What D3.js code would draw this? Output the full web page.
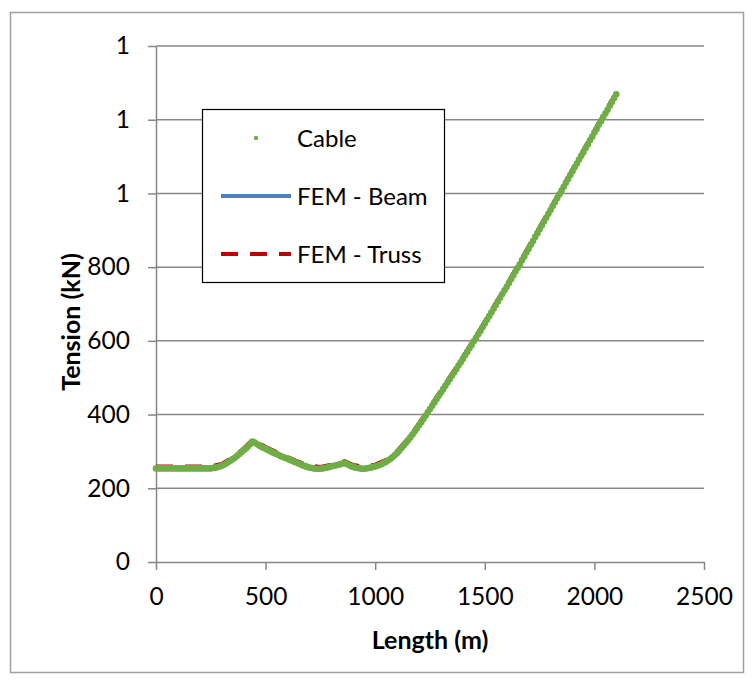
<!DOCTYPE html>
<html>
<head>
<meta charset="utf-8">
<script src="https://cdn.jsdelivr.net/npm/d3@7"></script>
<style>
  html, body { margin: 0; padding: 0; background: #ffffff; }
  svg text { font-family: Lato, "Noto Sans", sans-serif; fill: #000000; }
</style>
</head>
<body>
<div id="svgOutput"></div>
<script>
// data

const xTicks = [0, 500, 1000, 1500, 2000, 2500];
const yTicks = [0, 200, 400, 600, 800, 1000, 1200, 1400];
const yTickLabels = ["0", "200", "400", "600", "800", "1", "1", "1"];

const seriesNames = ["Cable", "FEM - Beam", "FEM - Truss"];

// cable nodes (m) and tension (kN)
const cableLength = [
  0, 10, 20, 30, 40, 50, 60, 70, 80, 90, 100, 110, 120, 130, 140, 150, 160, 170, 180, 190,
  200, 210, 220, 230, 240, 250, 260, 270, 280, 290, 300, 310, 320, 330, 340, 350, 360, 370, 380, 390,
  400, 410, 420, 430, 440, 450, 460, 470, 480, 490, 500, 510, 520, 530, 540, 550, 560, 570, 580, 590,
  600, 610, 620, 630, 640, 650, 660, 670, 680, 690, 700, 710, 720, 730, 740, 750, 760, 770, 780, 790,
  800, 810, 820, 830, 840, 850, 860, 870, 880, 890, 900, 910, 920, 930, 940, 950, 960, 970, 980, 990,
  1000, 1010, 1020, 1030, 1040, 1050, 1060, 1070, 1080, 1090, 1100, 1110, 1120, 1130, 1140, 1150, 1160, 1170, 1180, 1190,
  1200, 1210, 1220, 1230, 1240, 1250, 1260, 1270, 1280, 1290, 1300, 1310, 1320, 1330, 1340, 1350, 1360, 1370, 1380, 1390,
  1400, 1410, 1420, 1430, 1440, 1450, 1460, 1470, 1480, 1490, 1500, 1510, 1520, 1530, 1540, 1550, 1560, 1570, 1580, 1590,
  1600, 1610, 1620, 1630, 1640, 1650, 1660, 1670, 1680, 1690, 1700, 1710, 1720, 1730, 1740, 1750, 1760, 1770, 1780, 1790,
  1800, 1810, 1820, 1830, 1840, 1850, 1860, 1870, 1880, 1890, 1900, 1910, 1920, 1930, 1940, 1950, 1960, 1970, 1980, 1990,
  2000, 2010, 2020, 2030, 2040, 2050, 2060, 2070, 2080, 2090, 2100
];
const cableTension = [
  254, 254, 254, 254, 254, 254, 254, 254, 254, 254, 254, 254, 254, 254, 254, 254, 254, 254, 254, 254,
  254, 254, 254, 254, 254, 254, 255, 256, 257, 259, 261, 264, 267, 271, 275, 279, 283, 288, 293, 298,
  303, 308, 314, 320, 327, 324, 320, 317, 313, 310, 307, 304, 301, 298, 295, 293, 290, 287, 285, 282,
  280, 277, 275, 272, 270, 267, 265, 262, 260, 258, 256, 255, 254, 253, 253, 253, 254, 255, 256, 258,
  259, 261, 262, 264, 265, 267, 269, 266, 263, 260, 258, 256, 255, 254, 253, 253, 254, 255, 256, 258,
  259, 261, 263, 266, 269, 272, 276, 280, 285, 290, 296, 302, 309, 316, 323, 330, 338, 346, 354, 362,
  371, 379, 388, 397, 406, 415, 424, 433, 442, 451, 460, 469, 478, 487, 496, 505, 514, 523, 533, 542,
  551, 561, 570, 580, 589, 599, 608, 618, 627, 637, 647, 657, 667, 677, 687, 697, 707, 717, 727, 737,
  747, 757, 767, 778, 788, 798, 808, 819, 829, 840, 850, 861, 871, 882, 892, 903, 913, 924, 934, 945,
  955, 966, 976, 987, 997, 1008, 1018, 1029, 1039, 1050, 1060, 1071, 1081, 1092, 1102, 1112, 1123, 1133, 1144, 1154,
  1165, 1175, 1186, 1196, 1207, 1217, 1227, 1238, 1248, 1259, 1269
];

// finite element results (m, kN)
const femLength = [0, 50, 100, 150, 200, 250, 300, 350, 400, 443, 500, 550, 600, 650, 700, 750, 800, 861,
  900, 950, 1000, 1050, 1100, 1150, 1200, 1250, 1300, 1400, 1500, 1600, 1700, 1800, 1900, 2000, 2100];
const beamTension = [255, 255, 255, 255, 255, 255, 262, 280, 304, 329, 308, 294, 281, 268, 257, 254, 260, 270,
  259, 254, 260, 273, 297, 331, 372, 416, 461, 552, 648, 748, 851, 956, 1061, 1166, 1270];
const trussTension = [259, 259, 259, 259, 259, 259, 266, 284, 308, 333, 312, 298, 285, 272, 261, 258, 264, 274,
  263, 258, 264, 277, 301, 335, 376, 420, 465, 556, 652, 752, 855, 960, 1065, 1170, 1274];

// config

const width = 754;
const height = 684;
const plot = { left: 156, right: 704, top: 46, bottom: 562 };
const gridColor = "#878787";
const colors = { cable: "#70ad47", beam: "#4f81bd", truss: "#c00000" };

const svg = d3.select("#svgOutput")
  .append("svg")
  .attr("width", width)
  .attr("height", height)
  .attr("viewBox", [0, 0, width, height]);

// chart border
svg.append("rect")
  .attr("x", 10.5)
  .attr("y", 12.5)
  .attr("width", 733)
  .attr("height", 660)
  .attr("fill", "#ffffff")
  .attr("stroke", "#a0a0a0")
  .attr("stroke-width", 1.5);

// scales

const x = d3.scaleLinear().domain([0, 2500]).range([plot.left, plot.right]);
const y = d3.scaleLinear().domain([0, 1400]).range([plot.bottom, plot.top]);

// gridlines
svg.append("g")
  .selectAll("line")
  .data(yTicks.slice(1))
  .join("line")
  .attr("x1", plot.left)
  .attr("x2", plot.right)
  .attr("y1", d => y(d))
  .attr("y2", d => y(d))
  .attr("stroke", gridColor)
  .attr("stroke-width", 1.5);

// axes

const yAxis = svg.append("g")
  .attr("transform", `translate(${plot.left},0)`)
  .call(d3.axisLeft(y)
    .tickValues(yTicks)
    .tickFormat((d, i) => yTickLabels[i])
    .tickSize(8)
    .tickSizeOuter(0)
    .tickPadding(18));

const xAxis = svg.append("g")
  .attr("transform", `translate(0,${plot.bottom})`)
  .call(d3.axisBottom(x)
    .tickValues(xTicks)
    .tickFormat(d3.format("d"))
    .tickSize(8)
    .tickSizeOuter(0));

[xAxis, yAxis].forEach(g => {
  g.select(".domain").attr("stroke", gridColor).attr("stroke-width", 1.5);
  g.selectAll(".tick line").attr("stroke", gridColor).attr("stroke-width", 1.5);
  g.selectAll(".tick text")
    .style("font-size", "24.5px")
    .attr("fill", "#000000");
});

xAxis.selectAll(".tick text")
  .attr("y", 43)
  .attr("dy", null);

// axis titles

svg.append("text")
  .attr("x", (plot.left + plot.right) / 2)
  .attr("y", 649)
  .attr("text-anchor", "middle")
  .style("font-size", "25px")
  .style("font-weight", "bold")
  .text("Length (m)");

svg.append("text")
  .attr("transform", "translate(80,322) rotate(-90)")
  .attr("text-anchor", "middle")
  .style("font-size", "25px")
  .style("font-weight", "bold")
  .text("Tension (kN)");

// series

const femLine = d3.line()
  .x(d => x(d[0]))
  .y(d => y(d[1]));

svg.append("path")
  .datum(d3.zip(femLength, beamTension))
  .attr("d", femLine)
  .attr("fill", "none")
  .attr("stroke", colors.beam)
  .attr("stroke-width", 4)
  .attr("stroke-linejoin", "round");

svg.append("path")
  .datum(d3.zip(femLength, trussTension))
  .attr("d", femLine)
  .attr("fill", "none")
  .attr("stroke", colors.truss)
  .attr("stroke-width", 4)
  .attr("stroke-dasharray", "17,12");

svg.append("g")
  .selectAll("circle")
  .data(d3.zip(cableLength, cableTension))
  .join("circle")
  .attr("cx", d => x(d[0]))
  .attr("cy", d => y(d[1]))
  .attr("r", 3.3)
  .attr("fill", colors.cable);

// legend

const legend = svg.append("g");

legend.append("rect")
  .attr("x", 202.5)
  .attr("y", 109.5)
  .attr("width", 242)
  .attr("height", 173)
  .attr("fill", "#ffffff")
  .attr("stroke", "#000000")
  .attr("stroke-width", 1.2);

const legendY = [138, 196, 254];

legend.append("circle")
  .attr("cx", 256)
  .attr("cy", legendY[0])
  .attr("r", 2.2)
  .attr("fill", colors.cable);

legend.append("line")
  .attr("x1", 221).attr("x2", 291)
  .attr("y1", legendY[1]).attr("y2", legendY[1])
  .attr("stroke", colors.beam)
  .attr("stroke-width", 4);

legend.append("line")
  .attr("x1", 221).attr("x2", 291)
  .attr("y1", legendY[2]).attr("y2", legendY[2])
  .attr("stroke", colors.truss)
  .attr("stroke-width", 4)
  .attr("stroke-dasharray", "17,12");

legend.selectAll("text.item")
  .data(seriesNames)
  .join("text")
  .attr("class", "item")
  .attr("x", 297)
  .attr("y", (d, i) => legendY[i] + 8.5)
  .style("font-size", "24px")
  .text(d => d);
</script>
</body>
</html>
